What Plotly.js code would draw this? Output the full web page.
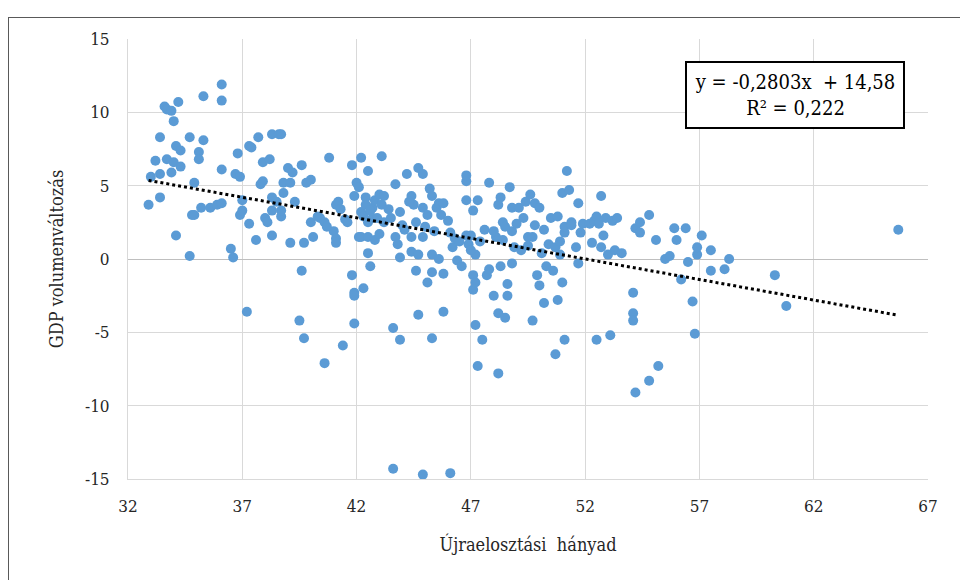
<!DOCTYPE html>
<html>
<head>
<meta charset="utf-8">
<script src="https://cdn.plot.ly/plotly-3.0.1.min.js"></script>
<style>
  html, body { margin: 0; padding: 0; background: #fff; }
  #frame { position: absolute; left: 8px; top: 17px; width: 960px; height: 580px; border-top: 1px solid #595959; border-left: 1px solid #595959; box-sizing: border-box; }
  #chart { position: absolute; left: 0; top: 0; width: 960px; height: 580px; }
</style>
</head>
<body>
<div id="frame"></div>
<div id="chart"></div>
<script>
const xTitle = "Újraelosztási  hányad";
const yTitle = "GDP volumenváltozás";
const xTicks = [32, 37, 42, 47, 52, 57, 62, 67];
const yTicks = [-15, -10, -5, 0, 5, 10, 15];
const slope = -0.2803;
const intercept = 14.58;
const eqText = "y = -0,2803x  + 14,58<br>R² = 0,222";

const xVals = [
32.9,33.0,33.2,33.4,33.4,33.4,33.6,33.7,33.9,34.0,34.2,33.7,33.9,34.0,34.1,34.3,34.3,34.1,34.7,34.7,
34.9,34.8,34.9,35.1,35.1,35.2,35.3,35.3,35.6,35.9,36.1,36.1,36.1,36.1,36.5,36.6,36.8,36.7,36.9,36.9,
37.0,37.0,37.2,37.3,37.3,37.4,37.6,37.7,37.8,37.9,37.9,38.0,38.1,38.2,38.3,38.3,38.3,38.3,38.5,38.6,
38.7,38.7,38.8,38.8,38.7,39.0,39.2,39.1,39.1,39.3,39.5,39.6,39.6,39.7,39.7,39.8,40.0,40.1,40.0,40.3,
40.4,40.6,40.6,40.8,41.0,41.1,41.1,41.1,41.2,41.4,41.5,41.6,41.8,41.8,41.9,41.9,41.9,41.9,42.0,42.1,
42.2,42.1,42.2,42.2,42.3,42.4,42.4,42.5,42.5,42.5,42.5,42.6,42.7,42.7,42.8,42.8,42.9,43.0,43.1,43.1,
43.2,43.2,43.5,43.6,43.6,43.7,43.7,43.8,43.9,43.9,43.9,44.1,44.2,44.4,44.4,44.5,44.4,44.6,44.6,44.7,
44.7,44.7,44.9,44.9,44.9,44.9,45.1,45.1,45.2,45.3,45.3,45.3,45.3,45.5,45.6,45.6,45.7,45.8,45.8,45.8,
46.1,46.1,46.2,46.3,46.4,46.6,46.8,46.8,46.8,46.8,46.9,47.0,47.1,47.1,47.1,47.2,47.2,47.2,47.3,47.3,
47.5,47.6,47.7,47.8,47.8,48.0,48.1,48.2,48.2,48.2,48.3,48.3,48.4,48.4,48.5,48.6,48.6,48.7,48.8,48.8,
48.8,48.9,49.1,49.2,49.3,49.4,49.5,49.6,49.7,49.7,49.8,49.8,49.9,50.0,50.0,50.1,50.2,50.3,50.4,50.5,
50.6,50.7,50.7,50.8,50.8,50.9,51.0,51.0,51.1,51.1,51.1,51.2,51.3,51.4,51.4,51.6,51.7,51.7,51.8,51.9,
52.2,52.3,52.4,52.5,52.5,52.6,52.7,52.7,52.8,52.9,53.0,53.1,53.2,53.3,53.4,53.6,54.1,54.1,54.1,54.2,
54.2,54.4,54.4,54.8,54.8,55.1,55.2,55.5,55.7,55.9,56.0,56.2,56.4,56.5,56.7,56.8,56.9,56.9,57.1,57.5,
57.5,58.1,58.3,60.3,60.8,65.7,
42.3,42.6,43.0,43.4,44.0,44.3,45.0,45.4,46.0,46.5,47.0,47.4,48.0,48.5,49.0,49.5,50.2,50.9,41.3,40.7
];
const yVals = [
3.7,5.6,6.7,5.8,4.2,8.3,10.4,10.2,10.1,9.4,10.7,6.8,5.9,6.6,7.7,7.4,6.3,1.6,8.3,0.2,
5.2,3.0,3.0,7.3,6.8,3.5,8.1,11.1,3.5,3.7,3.8,6.1,11.9,10.8,0.7,0.1,7.2,5.8,5.6,3.0,
3.3,4.0,-3.6,2.4,7.7,7.6,1.3,8.3,5.1,5.3,6.6,2.8,2.5,6.8,8.5,4.2,1.6,3.3,3.9,8.5,
8.5,2.9,4.5,5.2,3.3,6.2,5.9,1.1,5.2,3.9,-4.2,6.4,-0.8,-5.4,1.1,5.2,5.4,1.5,2.5,2.9,
2.8,-7.1,2.5,6.9,1.9,1.4,1.1,3.7,3.9,-5.9,2.7,2.5,-1.1,6.4,-2.3,-2.5,-4.4,4.3,5.2,4.9,
6.9,1.5,3.2,1.5,-2.0,4.2,3.7,0.4,1.5,6.0,2.5,-0.5,3.5,2.8,1.3,4.0,2.8,4.4,3.7,7.0,
4.3,2.5,2.8,-14.3,-4.7,5.1,1.5,1.0,0.1,-5.5,3.2,2.0,5.8,1.5,4.3,3.7,0.5,-0.8,2.5,6.2,
-3.8,0.3,-14.7,5.8,3.5,1.5,-1.6,3.0,4.8,4.3,-5.4,0.3,-0.9,3.5,0.0,3.8,3.0,3.8,-3.6,-1.0,
-14.6,1.8,0.8,1.4,-0.1,-0.5,1.6,5.3,5.7,4.0,1.0,1.6,-1.1,-2.1,3.3,-4.5,-1.6,0.3,-7.3,4.0,
-5.5,2.0,-1.1,-0.7,5.2,-2.5,1.5,3.7,-7.8,-3.7,4.2,-0.5,2.5,1.3,-4.0,-1.7,-2.5,4.9,-0.3,3.5,
1.9,0.8,3.5,0.6,2.8,3.9,1.5,4.4,-4.2,1.5,3.8,2.3,-1.1,-1.8,3.5,0.4,-3.0,-0.5,1.0,2.8,
-0.8,-6.5,0.8,2.9,-2.8,0.3,-1.6,4.5,1.8,-5.5,2.2,6.0,4.7,2.5,2.3,0.8,-0.3,3.8,1.8,2.4,
2.4,1.1,2.6,-5.5,2.9,2.4,0.8,4.3,1.6,2.8,0.3,-5.2,2.6,0.6,2.8,0.4,-2.3,-3.7,-4.2,-9.1,
2.1,2.5,1.8,3.0,-8.3,1.3,-7.3,0.0,0.2,2.1,1.3,-1.4,2.1,-0.2,-2.9,-5.1,0.3,0.8,1.6,-0.8,
0.6,-0.7,0.0,-1.1,-3.2,2.0,
2.9,3.3,1.7,3.4,2.3,3.9,2.2,1.9,2.6,1.2,0.6,1.2,1.9,2.2,2.4,0.9,2.0,1.2,3.4,2.2
];

const xMin = Math.min(...xVals), xMax = Math.max(...xVals);
const trendX = [xMin, xMax];
const trendY = trendX.map(v => slope * v + intercept);

const serif = "DejaVu Serif Condensed, DejaVu Serif";

const data = [
  {
    type: "scatter", mode: "markers", x: xVals, y: yVals,
    marker: { color: "#5b9bd5", size: 10, line: { width: 0 } },
    hoverinfo: "x+y", showlegend: false
  },
  {
    type: "scatter", mode: "lines", x: trendX, y: trendY,
    line: { color: "#000000", width: 3, dash: "dot" },
    hoverinfo: "skip", showlegend: false
  }
];

const layout = {
  width: 960, height: 580,
  margin: { l: 128, r: 32, t: 39, b: 101 },
  paper_bgcolor: "rgba(0,0,0,0)",
  plot_bgcolor: "#ffffff",
  font: { family: serif, size: 17, color: "#262626" },
  showlegend: false,
  xaxis: {
    range: [32, 67], tickvals: xTicks, ticktext: xTicks.map(String),
    showgrid: true, gridcolor: "#d9d9d9", gridwidth: 1,
    zeroline: false, showline: true, linecolor: "#d9d9d9", linewidth: 1, mirror: false,
    ticks: "outside", ticklen: 12, tickcolor: "rgba(0,0,0,0)",
    tickfont: { family: serif, size: 17, color: "#262626" },
    title: { text: xTitle, font: { family: serif, size: 18, color: "#262626" }, standoff: 22 },
    automargin: false
  },
  yaxis: {
    range: [-15, 15], tickvals: yTicks, ticktext: yTicks.map(String),
    showgrid: true, gridcolor: "#d9d9d9", gridwidth: 1,
    zeroline: true, zerolinecolor: "#bfbfbf", zerolinewidth: 1,
    showline: true, linecolor: "#d9d9d9", linewidth: 1,
    ticks: "outside", ticklen: 14, tickcolor: "rgba(0,0,0,0)",
    tickfont: { family: serif, size: 17, color: "#262626" },
    title: { text: yTitle, font: { family: serif, size: 18, color: "#262626" }, standoff: 16 },
    automargin: false
  },
  annotations: [
    {
      xref: "paper", yref: "paper", x: 0.834, y: 0.872,
      xanchor: "center", yanchor: "middle",
      text: eqText, showarrow: false, align: "center",
      font: { family: serif, size: 20, color: "#000000" },
      bordercolor: "#000000", borderwidth: 2, borderpad: 6,
      bgcolor: "#ffffff", width: 204, height: 52
    }
  ]
};

Plotly.newPlot("chart", data, layout, { displayModeBar: false, staticPlot: true });
</script>
</body>
</html>
